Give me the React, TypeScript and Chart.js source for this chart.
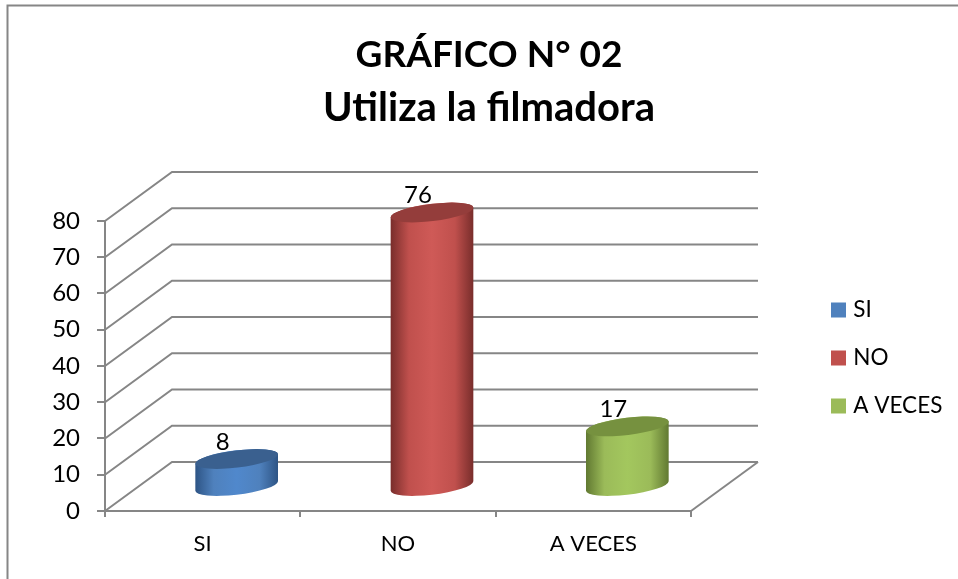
import React, { useEffect, useRef } from "react";
import { Chart, registerables } from "chart.js";

Chart.register(...registerables);

const categories = ["SI", "NO", "A VECES"];
const values = [8, 76, 17];
const axisMax = 80;
const axisStep = 10;
const titleText = "GRÁFICO N° 02";
const subtitleText = "Utiliza la filmadora";
const legendColors = ["#4F81BD", "#C0504D", "#9BBB59"];
const sideDark = ["#2E5586", "#7A2E2C", "#627A32"];
const sideLight = ["#5088CC", "#CF5A57", "#A3C75E"];
const topColors = ["#3A608F", "#943D3B", "#76913F"];

const FONT = "Lato, Carlito, Calibri, sans-serif";
const LINE = "#868686";
const DEPTH_X = 67;
const DEPTH_Y = 49;

const threeD = {
  id: "threeD",
  beforeDraw(chart: any) {
    const { ctx, width, height } = chart;
    ctx.save();
    ctx.strokeStyle = LINE;
    ctx.lineWidth = 2;
    ctx.beginPath();
    ctx.moveTo(7.5, height);
    ctx.lineTo(7.5, 5.5);
    ctx.lineTo(width, 5.5);
    ctx.stroke();
    ctx.restore();
  },
  afterLayout(chart: any) {
    const legend = chart.legend;
    const pad = legend.options.labels.padding;
    const size = legend.options.labels.font.size;
    legend.left = 835 - pad;
    legend.right = chart.width;
    legend.top = 310 - size / 2 - pad;
    legend.bottom = chart.height;
    chart.boxes.forEach((box: any) => {
      const text = box.options && box.options.text;
      if (text === titleText || text === subtitleText) {
        box.left = 0;
        box.right = 978;
      }
    });
  },
  beforeDatasetsDraw(chart: any) {
    const { ctx, scales } = chart;
    const { x, y } = scales;
    ctx.save();
    ctx.strokeStyle = LINE;
    ctx.lineWidth = 2;
    y.ticks.forEach((t: any) => {
      const py = y.getPixelForValue(t.value);
      ctx.beginPath();
      ctx.moveTo(x.left, py);
      ctx.lineTo(x.left + DEPTH_X, py - DEPTH_Y);
      ctx.lineTo(x.right + DEPTH_X, py - DEPTH_Y);
      ctx.stroke();
    });
    const floor = y.getPixelForValue(0);
    ctx.beginPath();
    ctx.moveTo(x.right, floor);
    ctx.lineTo(x.right + DEPTH_X, floor - DEPTH_Y);
    ctx.stroke();
    ctx.restore();
  },
  beforeDatasetDraw() {
    return false;
  },
  afterDatasetsDraw(chart: any) {
    const { ctx } = chart;
    const bars = chart.getDatasetMeta(0).data;
    bars.forEach((bar: any, i: number) => {
      const cx = bar.x + DEPTH_X / 2 + 0.5;
      const topY = bar.y - DEPTH_Y / 2 + 1.5;
      const baseY = bar.base - DEPTH_Y / 2 + 0.5;
      const a = bar.width / 2 + 0.6;
      const b = 8.6;
      const t = -0.12;
      const th = Math.atan2(-b * Math.sin(t), a * Math.cos(t));
      const left = cx - bar.width / 2;
      const right = cx + bar.width / 2;
      const g = ctx.createLinearGradient(left, 0, right, 0);
      g.addColorStop(0, sideDark[i]);
      g.addColorStop(0.22, legendColors[i]);
      g.addColorStop(0.5, sideLight[i]);
      g.addColorStop(0.78, legendColors[i]);
      g.addColorStop(1, sideDark[i]);
      ctx.save();
      ctx.fillStyle = g;
      ctx.beginPath();
      ctx.ellipse(cx, baseY, a, b, t, th, th + Math.PI);
      ctx.ellipse(cx, topY, a, b, t, th + Math.PI, th + 2 * Math.PI);
      ctx.closePath();
      ctx.fill();
      ctx.fillStyle = topColors[i];
      ctx.beginPath();
      ctx.ellipse(cx, topY, a, b, t, 0, Math.PI * 2);
      ctx.fill();
      ctx.fillStyle = "#000";
      ctx.font = `24px ${FONT}`;
      ctx.textAlign = "center";
      ctx.textBaseline = "middle";
      ctx.fillText(String(values[i]), cx - 14, topY - 17);
      ctx.restore();
    });
  },
};

export default function App() {
  const ref = useRef<HTMLCanvasElement>(null);
  useEffect(() => {
    const chart = new Chart(ref.current as HTMLCanvasElement, {
      type: "bar",
      data: {
        labels: categories,
        datasets: [
          {
            label: subtitleText,
            data: values,
            backgroundColor: legendColors,
            categoryPercentage: 1,
            barPercentage: 0.42,
          },
        ],
      },
      options: {
        responsive: false,
        animation: false,
        layout: { padding: { left: 0, right: 167, top: 0, bottom: 0 } },
        scales: {
          x: {
            offset: true,
            afterFit(scale: any) {
              scale.height = 68;
            },
            grid: {
              offset: true,
              drawOnChartArea: false,
              color: LINE,
              lineWidth: 2,
              tickLength: 6,
            },
            border: { color: LINE, width: 2 },
            ticks: { color: "#000", font: { family: FONT, size: 22 }, padding: 14, maxRotation: 0 },
          },
          y: {
            min: 0,
            max: axisMax,
            afterFit(scale: any) {
              scale.width = 105;
            },
            grid: { drawOnChartArea: false, color: LINE, lineWidth: 2, tickLength: 8 },
            border: { color: LINE, width: 2 },
            ticks: { stepSize: axisStep, color: "#000", font: { family: FONT, size: 24 }, padding: 17 },
          },
        },
        plugins: {
          tooltip: { enabled: false },
          title: {
            display: true,
            text: titleText,
            color: "#000",
            font: { family: FONT, size: 37, weight: "bold", lineHeight: 1.47 },
            padding: { top: 28, bottom: 0 },
          },
          subtitle: {
            display: true,
            text: subtitleText,
            color: "#000",
            font: { family: FONT, size: 40, weight: "bold", lineHeight: 1.3 },
            padding: { top: 0, bottom: 86.6 },
          },
          legend: {
            position: "right",
            align: "start",
            maxWidth: 100,
            labels: {
              color: "#000",
              boxWidth: 7,
              boxHeight: 7,
              padding: 25.5,
              font: { family: FONT, size: 22.5 },
              generateLabels: () =>
                categories.map((text, index) => ({
                  text,
                  index,
                  fillStyle: legendColors[index],
                  strokeStyle: legendColors[index],
                  lineWidth: 8,
                  hidden: false,
                })),
            },
          },
        },
      },
      plugins: [threeD],
    } as any);
    return () => chart.destroy();
  }, []);
  return (
    <div style={{ position: "fixed", left: 0, top: 0, width: 958, height: 579, background: "#fff" }}>
      <canvas ref={ref} width={958} height={579} style={{ display: "block" }} />
    </div>
  );
}
